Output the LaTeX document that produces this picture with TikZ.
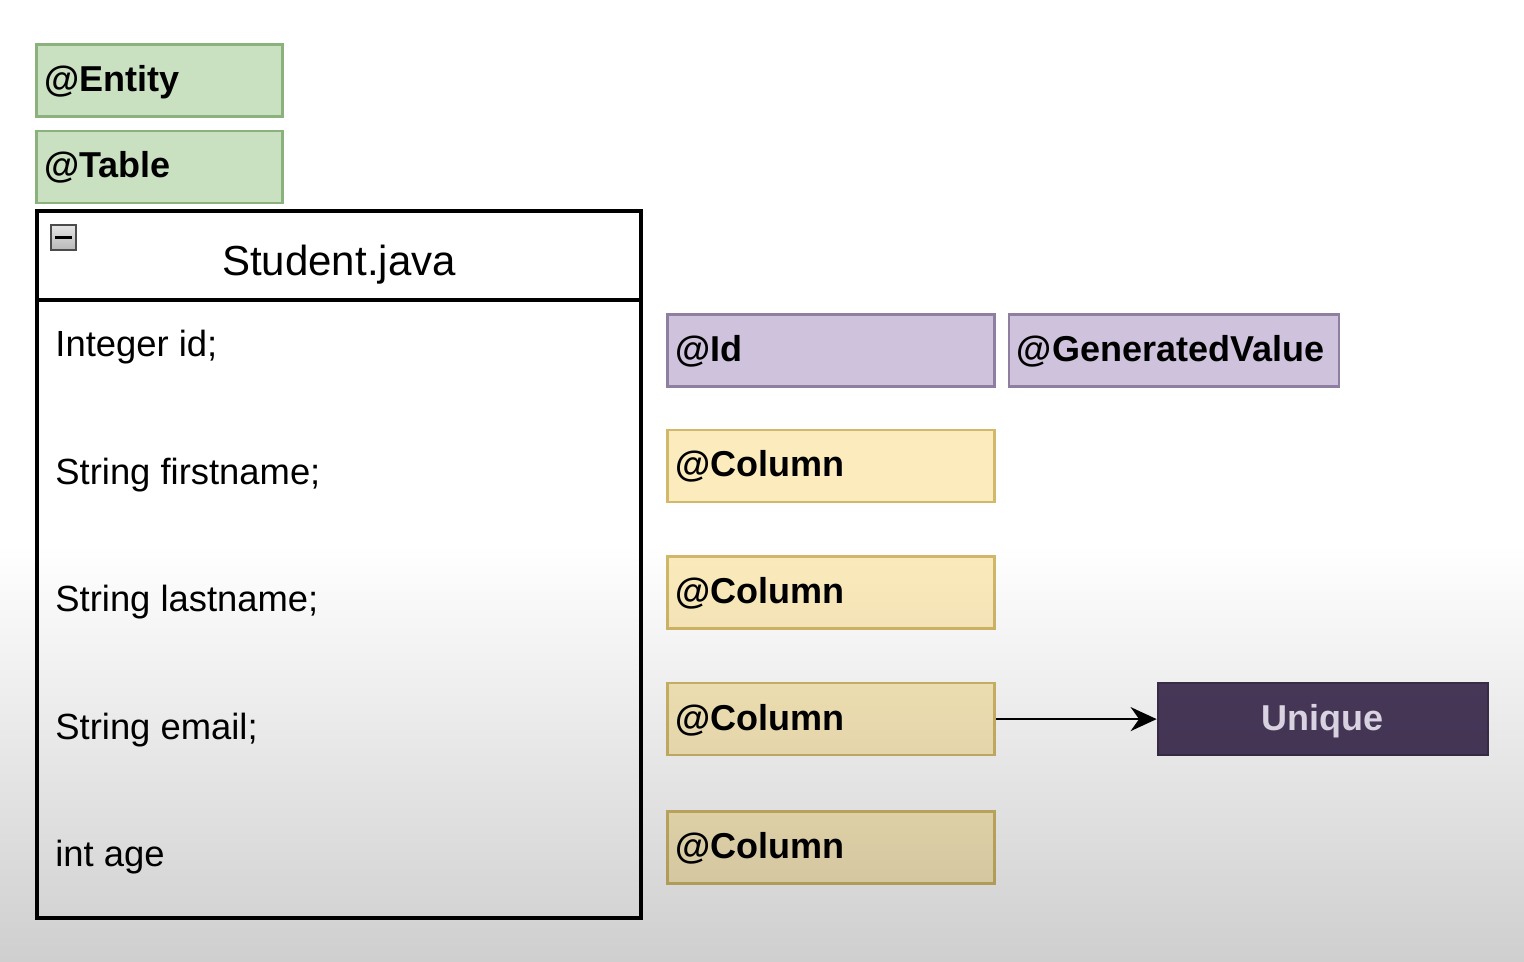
\documentclass[tikz,border=0pt]{standalone}
\usepackage{fontspec}
\setmainfont{Liberation Sans}
\usetikzlibrary{arrows.meta,positioning,fadings}
\definecolor{tagfill}{HTML}{C9E0C1}
\definecolor{tagline}{HTML}{8BB27C}
\definecolor{keyfill}{HTML}{CFC2DD}
\definecolor{keyline}{HTML}{8E7FA0}
\definecolor{colfill}{HTML}{FCECBD}
\definecolor{colline}{HTML}{D2B86A}
\definecolor{uniqfill}{HTML}{4B3B5E}
\definecolor{uniqtext}{HTML}{ECE4F4}
\tikzfading[name=screenfade,top color=transparent!100,bottom color=transparent!81]

\begin{document}
\begin{tikzpicture}[
  x=0.5pt,y=-0.5pt,
  >={Stealth[length=13pt,width=12pt]},
  anno/.style={draw,line width=1.3pt,inner xsep=4pt,inner ysep=0pt,
    text height=14.5pt,text depth=3.5pt,
    minimum height=36pt,align=left,font=\fontsize{18}{22}\selectfont\bfseries},
  tagbox/.style={anno,fill=tagfill,draw=tagline,text width=115pt},
  keybox/.style={anno,fill=keyfill,draw=keyline,text width=155.5pt},
  colbox/.style={anno,fill=colfill,draw=colline,text width=155.5pt},
  uniquebox/.style={draw=uniqfill!80!black,line width=1.3pt,fill=uniqfill,
    text=uniqtext,minimum width=165pt,minimum height=36pt,
    text height=14.5pt,text depth=3.5pt,
    font=\fontsize{18}{22}\selectfont\bfseries},
  classhead/.style={draw,line width=2pt,minimum width=302pt,
    minimum height=44.5pt,font=\fontsize{21}{25}\selectfont},
  classbody/.style={draw,line width=2pt,minimum width=302pt,
    minimum height=309pt},
  field/.style={anchor=west,inner sep=0pt,font=\fontsize{18.2}{22}\selectfont},
  collapse/.style={draw=gray!60!black,top color=gray!20,bottom color=gray!55,
    minimum size=12.5pt,inner sep=0pt,line width=0.8pt},
  link/.style={->,line width=1pt}
]
  \useasboundingbox (0,0) rectangle (1524,962);
  \fill[white] (0,0) rectangle (1524,962);

  % class annotations
  \node[tagbox,anchor=north west] (entity) at (35,43) {@Entity};
  \node[tagbox,below=6pt of entity] (table) {@Table};

  % the class itself
  \node[classhead,anchor=north west] (student) at (35,209) {\raisebox{-10pt}[0pt][0pt]{Student.java}};
  \node[classbody,below=-2pt of student] (fields) {};
  \node[collapse,anchor=north west] (toggle) at (50,224) {};
  \draw[line width=1.6pt] ([xshift=2.5pt]toggle.west) -- ([xshift=-2.5pt]toggle.east);

  \node[field] (fid) at (55,347) {Integer id;};
  \node[field] (ffirst) at (55,475) {String firstname;};
  \node[field] (flast) at (55,602) {String lastname;};
  \node[field] (femail) at (55,730) {String email;};
  \node[field] (fage) at (55,857) {int age};

  % field annotations
  \node[keybox,anchor=north west] (idkey) at (666,313) {@Id};
  \node[keybox,right=6pt of idkey,text width=157pt] (genval) {@GeneratedValue};
  \node[colbox,below=20.5pt of idkey] (colfirst) {@Column};
  \node[colbox,below=26pt of colfirst] (collast) {@Column};
  \node[colbox,below=26pt of collast] (colemail) {@Column};
  \node[colbox,below=27pt of colemail] (colage) {@Column};

  \node[uniquebox,right=80.5pt of colemail] (unique) {Unique};
  \draw[link] (colemail) -- (unique);

  % darkening towards the bottom
  \fill[black,path fading=screenfade] (0,545) rectangle (1524,962);
\end{tikzpicture}
\end{document}
